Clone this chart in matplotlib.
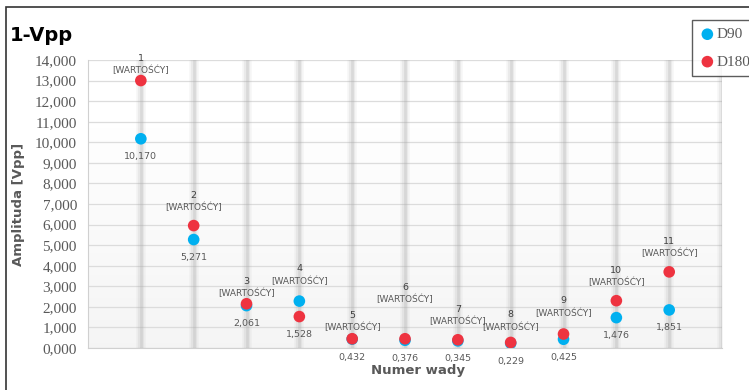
import numpy as np
import matplotlib
matplotlib.use("Agg")
import matplotlib.pyplot as plt
from matplotlib.patches import Rectangle

# amplitude per defect, two probe angles
defects = [1, 2, 3, 4, 5, 6, 7, 8, 9, 10, 11]
d90 = [10.170, 5.271, 2.061, 2.28, 0.432, 0.376, 0.345, 0.229, 0.425, 1.476, 1.851]
d180 = [13.0, 5.95, 2.15, 1.528, 0.45, 0.45, 0.40, 0.27, 0.68, 2.30, 3.70]
value_labels = [10.170, 5.271, 2.061, 1.528, 0.432, 0.376, 0.345, 0.229, 0.425, 1.476, 1.851]
yticks = [0, 1, 2, 3, 4, 5, 6, 7, 8, 9, 10, 11, 12, 13, 14]

# how far (pixels) the category caption sits above the upper marker
caption_lift = [10, 18, 10, 20, 11, 39, 18, 15, 21, 18, 18]

blue = "#00B0F0"
red = "#EE3340"
PX = 72 / 100  # points per pixel at 100 dpi

def pl(v):
    return f"{v:.3f}".replace(".", ",")

fig = plt.figure(figsize=(7.49, 3.9), dpi=100)
ax = fig.add_axes([0.1175, 0.1077, 0.8465, 0.7385])

# faint grey shading fading out towards the top of the plot area
n = 256
shade = np.zeros((n, 1, 4))
shade[..., :3] = 0.5
shade[:, 0, 3] = np.clip(np.linspace(-0.02, 0.08, n), 0, None)
ax.imshow(shade, extent=[0, 12, 0, 14], aspect="auto", origin="upper",
          zorder=0, interpolation="bilinear")
ax.set_xlim(0, 12)
ax.set_ylim(0, 14)

for y in yticks:
    ax.axhline(y, color="#dcdcdc", lw=0.9, zorder=1)

# soft vertical bands at each category
for x in range(1, 13):
    ax.axvline(x, color="#a0a0a0", lw=7, alpha=0.08, zorder=1)
    ax.axvline(x, color="#a0a0a0", lw=4.5, alpha=0.14, zorder=1)
    ax.axvline(x, color="#a8a8a8", lw=2, alpha=0.25, zorder=1)

ax.scatter(defects, d90, s=70, color=blue, zorder=3, label="D90", edgecolors="none")
ax.scatter(defects, d180, s=70, color=red, zorder=4, label="D180", edgecolors="none")

for i, x in enumerate(defects):
    top = max(d90[i], d180[i])
    low = min(d90[i], d180[i])
    lift = caption_lift[i]
    ax.annotate("[WARTOŚĆY]", (x, top), xytext=(0, lift * PX), textcoords="offset points",
                ha="center", va="center", fontsize=6.5, color="#595959", zorder=5)
    ax.annotate(str(x), (x, top), xytext=(0, (lift + 12.5) * PX), textcoords="offset points",
                ha="center", va="center", fontsize=6.8, color="#404040", zorder=5)
    ax.annotate(pl(value_labels[i]), (x, low), xytext=(0, -18 * PX), textcoords="offset points",
                ha="center", va="center", fontsize=6.8, color="#595959", zorder=5)

ax.set_xticks([])
ax.set_yticks(yticks)
ax.set_yticklabels([pl(v) for v in yticks], family="Liberation Serif",
                   fontsize=11, color="#595959")
ax.tick_params(axis="y", length=0, pad=8)
for s in ["top", "right"]:
    ax.spines[s].set_visible(False)
for s in ["left", "bottom"]:
    ax.spines[s].set_color("#d0d0d0")

ax.set_ylabel("Amplituda [Vpp]", fontsize=9.5, fontweight="bold", color="#595959")
ax.yaxis.set_label_coords(-0.1, 0.5)
ax.set_xlabel("Numer wady", fontsize=9.5, fontweight="bold", color="#595959")
ax.xaxis.set_label_coords(0.52, -0.055)

fig.text(0.013, 0.91, "1-Vpp", fontsize=14, fontweight="bold", color="black",
         va="center", ha="left")

# outer chart frame
fig.patches.append(Rectangle((6 / 749, -0.1), 1.2, 1 - 7 / 390 + 0.1,
                             transform=fig.transFigure, fill=False,
                             edgecolor="#333333", lw=1.2))

leg = fig.legend(loc="upper left", bbox_to_anchor=(0.924, 0.949), frameon=True,
                 fancybox=False, edgecolor="#333333", prop={"family": "Liberation Serif", "size": 11},
                 handletextpad=0.1, handlelength=1.0, borderpad=0.5, labelspacing=0.9,
                 labelcolor="#595959", borderaxespad=0)
leg.get_frame().set_linewidth(1.0)

fig.savefig("out.png", dpi=100)
